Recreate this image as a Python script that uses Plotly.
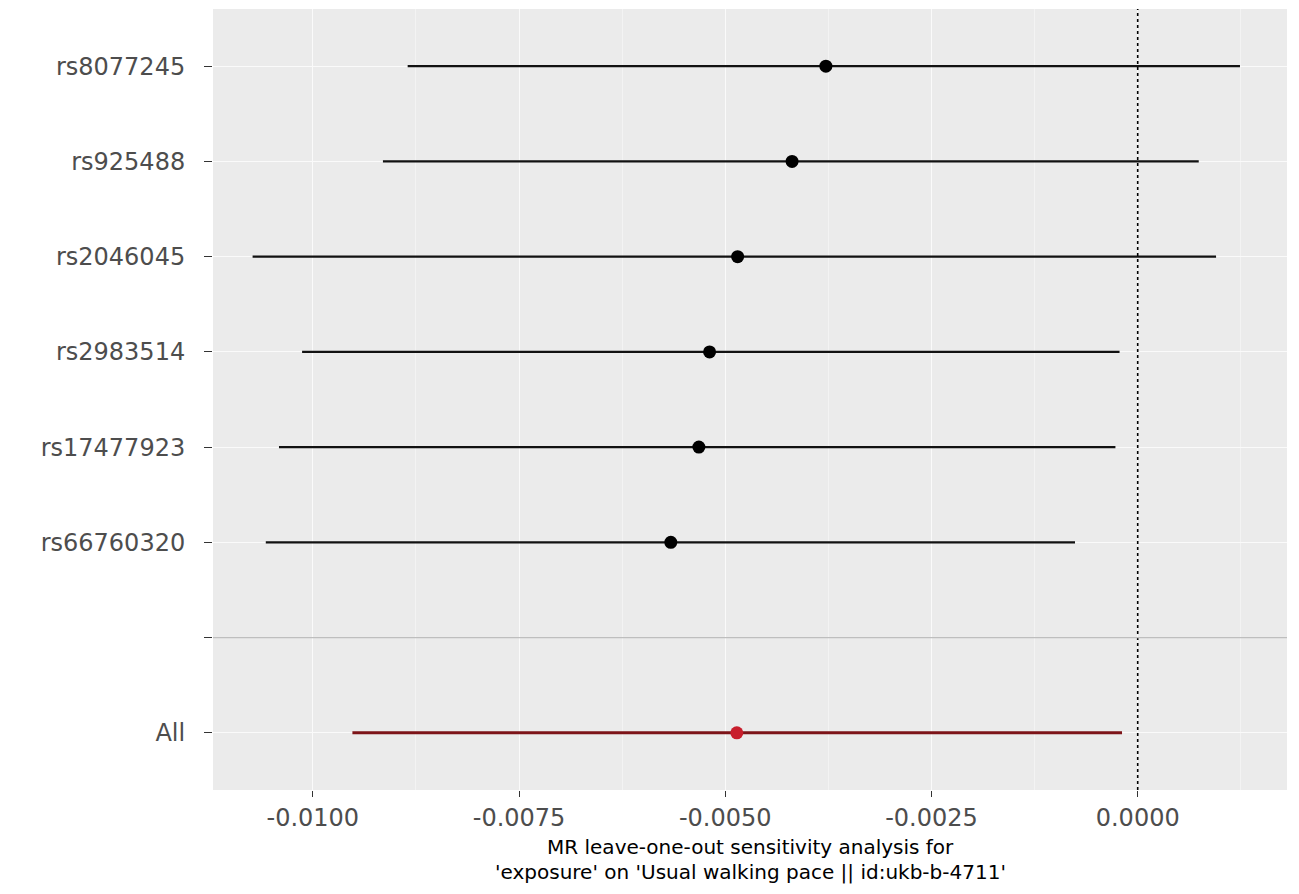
import plotly.graph_objects as go

# Data (top to bottom)
snps = ["rs8077245", "rs925488", "rs2046045", "rs2983514", "rs17477923", "rs66760320", "", "All"]
b = [-0.00378, -0.00419, -0.00485, -0.00519, -0.00532, -0.00566, None, -0.00486]
lo = [-0.00885, -0.00915, -0.01073, -0.01013, -0.01041, -0.01057, None, -0.00952]
up = [0.00124, 0.00074, 0.00095, -0.00022, -0.00027, -0.00076, None, -0.00019]

x_ticks = [-0.0100, -0.0075, -0.0050, -0.0025, 0.0000]
x_ticklabels = ["-0.0100", "-0.0075", "-0.0050", "-0.0025", "0.0000"]
x_minor = [-0.01125, -0.00875, -0.00625, -0.00375, -0.00125, 0.00125]

title_lines = ["MR leave-one-out sensitivity analysis for",
               "'exposure' on 'Usual walking pace || id:ukb-b-4711'"]

ypos = list(range(len(snps)))
blank_idx = snps.index("")
XMIN, XMAX = -0.01121, 0.00181

# page has an 8px body margin; figure sized so the panel lands at the right pixels
W, H = 1283, 878
ML, MR, MT, MB = 205, 4, 1, 96
panel_h = H - MT - MB

fig = go.Figure()

fig.add_shape(type="line", xref="x", yref="paper", x0=0, x1=0, y0=0, y1=1,
              line=dict(color="black", width=1.6, dash="dot"), layer="above")
fig.add_shape(type="line", xref="paper", yref="y", x0=0, x1=1, y0=blank_idx, y1=blank_idx,
              line=dict(color="#BEBEBE", width=1.3), layer="above")

for i, s in enumerate(snps):
    if b[i] is None:
        continue
    is_all = (s == "All")
    fig.add_trace(go.Scatter(
        x=[lo[i], up[i]], y=[ypos[i], ypos[i]], mode="lines",
        line=dict(color="#7d1418" if is_all else "#111111", width=3 if is_all else 2.4),
        showlegend=False, hoverinfo="skip"))
    fig.add_trace(go.Scatter(
        x=[b[i]], y=[ypos[i]], mode="markers",
        marker=dict(color="#c81e2c" if is_all else "black", size=13),
        showlegend=False))

# two-line axis title
for k, (txt, ypix) in enumerate(zip(title_lines, [57, 82])):
    fig.add_annotation(text=txt, xref="paper", yref="paper", x=0.5, y=-ypix / panel_h,
                       xanchor="center", yanchor="middle", showarrow=False,
                       font=dict(family="DejaVu Sans", size=20, color="black"))

fig.update_layout(
    width=W, height=H,
    margin=dict(l=ML, r=MR, t=MT, b=MB),
    paper_bgcolor="white", plot_bgcolor="#EBEBEB",
    font=dict(family="DejaVu Sans", size=20, color="#4D4D4D"),
)
fig.update_xaxes(
    range=[XMIN, XMAX], tickvals=x_ticks, ticktext=x_ticklabels,
    showgrid=True, gridcolor="#FAFAFA", gridwidth=1.4,
    minor=dict(tickvals=x_minor, showgrid=True, gridcolor="#F3F3F3", gridwidth=0.8, ticks=""),
    ticks="outside", ticklen=6, tickcolor="#333333", tickwidth=1.2,
    tickfont=dict(family="DejaVu Sans", size=24, color="#4D4D4D"),
    zeroline=False, showline=False,
)
fig.update_yaxes(
    range=[len(snps) - 0.4, -0.6], tickvals=ypos, ticktext=snps,
    showgrid=True, gridcolor="#FAFAFA", gridwidth=1.4,
    ticks="outside", ticklen=8, tickcolor="#333333", tickwidth=1.2,
    ticklabelstandoff=14,
    tickfont=dict(family="DejaVu Sans", size=24, color="#4D4D4D"),
    zeroline=False, showline=False,
)

fig.write_html("out.html")
